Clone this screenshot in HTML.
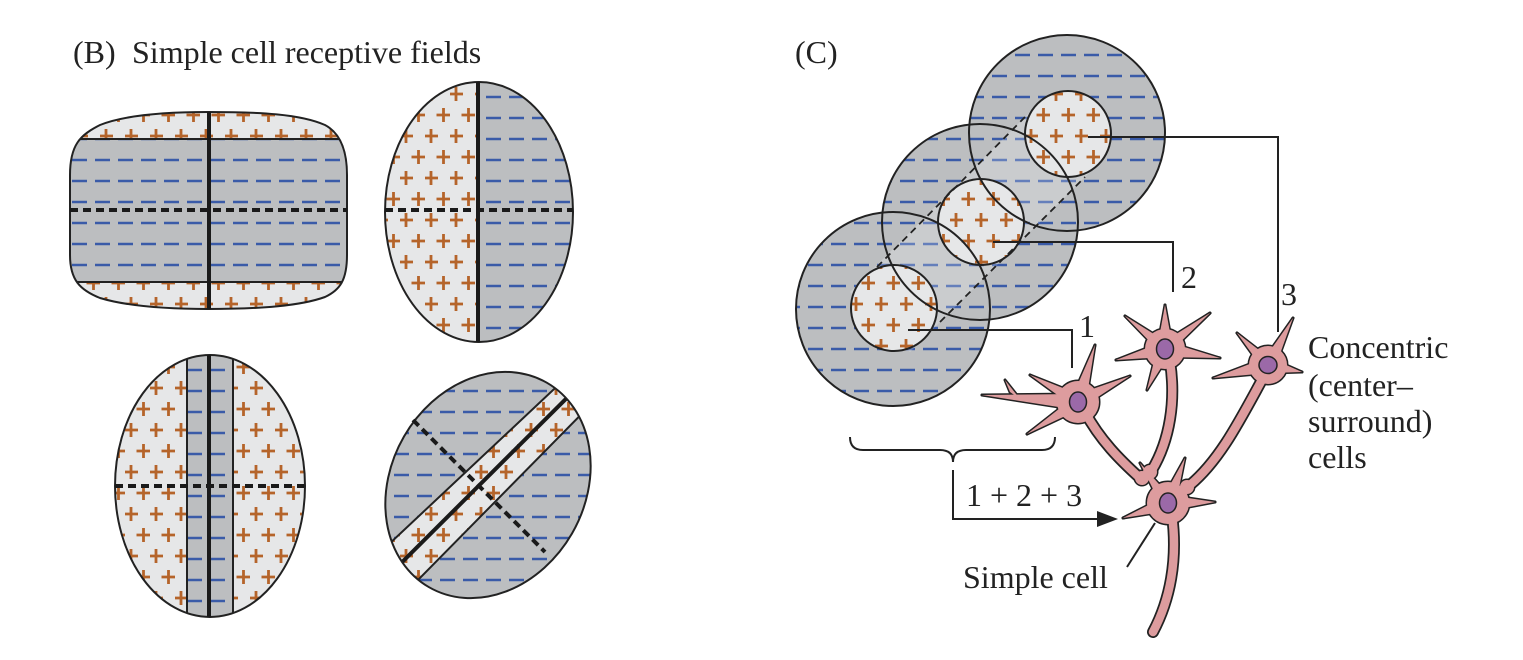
<!DOCTYPE html>
<html><head><meta charset="utf-8"><style>
html,body{margin:0;padding:0;background:#fff;}
svg{display:block;}
text{font-family:"Liberation Serif",serif;font-size:32px;fill:#222;}
</style></head><body>
<svg width="1523" height="660" viewBox="0 0 1523 660" xmlns="http://www.w3.org/2000/svg">
<defs>
<pattern id="pl" width="25" height="42" patternUnits="userSpaceOnUse">
<rect width="25" height="42" fill="#e6e7e8"/>
<path d="M-1,10h14M6,3v14M11.5,31h14M18.5,24v14" stroke="#b5642a" stroke-width="2.8"/>
</pattern>
<pattern id="ds" width="23" height="21" patternUnits="userSpaceOnUse">
<rect width="23" height="21" fill="#bcbec0"/>
<path d="M3,13h15" stroke="#3a5ba8" stroke-width="2.5"/>
</pattern>
<path id="s1" d="M70,175 C70,145 80,135 100,125 C130,113 180,112 208,112 C260,112 300,114 325,125 C340,133 347,150 347,175 L347,255 C347,280 340,290 325,297 C300,306 260,309 208,309 C170,309 130,307 100,298 C80,290 70,280 70,255 Z"/>
<clipPath id="c1"><use href="#s1"/></clipPath>
<clipPath id="c2"><ellipse cx="479" cy="212" rx="94" ry="130"/></clipPath>
<clipPath id="c3"><ellipse cx="210" cy="486" rx="95" ry="131"/></clipPath>
<clipPath id="c4"><ellipse cx="488" cy="485" rx="118" ry="97" transform="rotate(-60 488 485)"/></clipPath>
<clipPath id="cu"><circle cx="893" cy="309" r="97"/><circle cx="980" cy="222" r="98"/><circle cx="1067" cy="133" r="98"/></clipPath>
<g id="nsp">
<circle cx="1078" cy="402" r="21"/>
<polygon points="1070,402 1086,402 1095,345"/><polygon points="1078,394 1078,410 1095,345"/>
<polygon points="1070,402 1086,402 1130,376"/><polygon points="1078,394 1078,410 1130,376"/>
<polygon points="1070,402 1086,402 1030,375"/><polygon points="1078,394 1078,410 1030,375"/>
<polygon points="1070,402 1086,402 982,395"/><polygon points="1078,394 1078,410 982,395"/>
<polygon points="1070,402 1086,402 1027,434"/><polygon points="1078,394 1078,410 1027,434"/>
<polygon points="1010,392 1020,399 1005,380"/>
<circle cx="1165" cy="349" r="20"/>
<polygon points="1157,349 1173,349 1165,305"/><polygon points="1165,341 1165,357 1165,305"/>
<polygon points="1157,349 1173,349 1125,316"/><polygon points="1165,341 1165,357 1125,316"/>
<polygon points="1157,349 1173,349 1210,313"/><polygon points="1165,341 1165,357 1210,313"/>
<polygon points="1157,349 1173,349 1116,360"/><polygon points="1165,341 1165,357 1116,360"/>
<polygon points="1157,349 1173,349 1220,358"/><polygon points="1165,341 1165,357 1220,358"/>
<polygon points="1157,349 1173,349 1147,390"/><polygon points="1165,341 1165,357 1147,390"/>
<circle cx="1268" cy="365" r="19"/>
<polygon points="1260,365 1276,365 1293,318"/><polygon points="1268,357 1268,373 1293,318"/>
<polygon points="1260,365 1276,365 1237,333"/><polygon points="1268,357 1268,373 1237,333"/>
<polygon points="1260,365 1276,365 1302,372"/><polygon points="1268,357 1268,373 1302,372"/>
<polygon points="1260,365 1276,365 1213,378"/><polygon points="1268,357 1268,373 1213,378"/>
<circle cx="1168" cy="503" r="21"/>
<polygon points="1160,503 1176,503 1140,463"/><polygon points="1168,495 1168,511 1140,463"/>
<polygon points="1160,503 1176,503 1185,458"/><polygon points="1168,495 1168,511 1185,458"/>
<polygon points="1160,503 1176,503 1215,502"/><polygon points="1168,495 1168,511 1215,502"/>
<polygon points="1160,503 1176,503 1123,518"/><polygon points="1168,495 1168,511 1123,518"/>
<circle cx="1142" cy="478" r="7"/><circle cx="1150" cy="472" r="7"/><circle cx="1187" cy="487" r="7"/>
</g>
<g id="nax">
<path d="M1085,412 C1100,440 1120,460 1140,478"/>
<path d="M1170,362 C1176,400 1170,440 1152,470"/>
<path d="M1263,378 C1240,420 1220,460 1190,485"/>
<path d="M1172,515 C1178,560 1170,600 1153,632"/>
</g>
</defs>

<text x="73" y="63">(B)</text>
<text x="132" y="63">Simple cell receptive fields</text>
<text x="795" y="63">(C)</text>

<g clip-path="url(#c1)">
<rect x="60" y="100" width="300" height="220" fill="url(#pl)"/>
<rect x="60" y="139" width="300" height="143" fill="url(#ds)"/>
<path d="M60,139H360M60,282H360" stroke="#222" stroke-width="2"/>
</g>
<use href="#s1" fill="none" stroke="#222" stroke-width="2"/>
<path d="M209,112V309" stroke="#1a1a1a" stroke-width="4"/>
<path d="M70,210H347" stroke="#1a1a1a" stroke-width="4" stroke-dasharray="8 5"/>

<g clip-path="url(#c2)">
<rect x="380" y="80" width="100" height="270" fill="url(#pl)"/>
<rect x="478" y="80" width="100" height="270" fill="url(#ds)"/>
</g>
<ellipse cx="479" cy="212" rx="94" ry="130" fill="none" stroke="#222" stroke-width="2"/>
<path d="M478,82V342" stroke="#1a1a1a" stroke-width="4"/>
<path d="M385,210H573" stroke="#1a1a1a" stroke-width="4" stroke-dasharray="8 5"/>

<g clip-path="url(#c3)">
<rect x="110" y="350" width="200" height="270" fill="url(#pl)"/>
<rect x="187" y="350" width="46" height="270" fill="url(#ds)"/>
<path d="M187,350V620M233,350V620" stroke="#222" stroke-width="2"/>
</g>
<ellipse cx="210" cy="486" rx="95" ry="131" fill="none" stroke="#222" stroke-width="2"/>
<path d="M209,355V617" stroke="#1a1a1a" stroke-width="4"/>
<path d="M115,486H304" stroke="#1a1a1a" stroke-width="4" stroke-dasharray="8 5"/>

<g clip-path="url(#c4)">
<rect x="370" y="360" width="240" height="250" fill="url(#ds)"/>
<polygon points="320,609 602,344 623,372 348,651" fill="url(#pl)"/>
<path d="M320,609L602,344M348,651L623,372" stroke="#222" stroke-width="2"/>
<path d="M347,617L612,353" stroke="#1a1a1a" stroke-width="4"/>
</g>
<ellipse cx="488" cy="485" rx="118" ry="97" transform="rotate(-60 488 485)" fill="none" stroke="#222" stroke-width="2"/>
<path d="M413,420L545,552" stroke="#1a1a1a" stroke-width="4" stroke-dasharray="8 5"/>

<circle cx="893" cy="309" r="97" fill="url(#ds)"/>
<circle cx="980" cy="222" r="98" fill="url(#ds)"/>
<circle cx="1067" cy="133" r="98" fill="url(#ds)"/>
<polygon points="850,292 1038,104 1098,164 910,352" fill="#fff" opacity="0.22" clip-path="url(#cu)"/>
<circle cx="894" cy="308" r="43" fill="url(#pl)"/>
<circle cx="981" cy="222" r="43" fill="url(#pl)"/>
<circle cx="1068" cy="134" r="43" fill="url(#pl)"/>
<g fill="none" stroke="#222" stroke-width="2">
<circle cx="893" cy="309" r="97"/>
<circle cx="980" cy="222" r="98"/>
<circle cx="1067" cy="133" r="98"/>
<circle cx="894" cy="308" r="43"/>
<circle cx="981" cy="222" r="43"/>
<circle cx="1068" cy="134" r="43"/>
</g>
<path d="M877,267L1025,117M940,322L1085,177" stroke="#222" stroke-width="1.8" stroke-dasharray="7 5"/>

<g fill="none" stroke="#222" stroke-width="2">
<path d="M1088,137H1278V332"/>
<path d="M993,242H1173V292"/>
<path d="M908,330H1072V368"/>
<path d="M850,437 Q850,450 863,450 L940,450 Q953,450 953,462 Q953,450 966,450 L1042,450 Q1055,450 1055,437"/>
<path d="M953,470V519H1102"/>
<path d="M1127,567L1155,523"/>
</g>
<polygon points="1118,519 1097,511 1097,527" fill="#222"/>

<use href="#nax" fill="none" stroke="#222" stroke-width="12" stroke-linecap="round"/>
<use href="#nsp" fill="#222" stroke="#222" stroke-width="3" stroke-linejoin="round"/>
<use href="#nax" fill="none" stroke="#dd9c9e" stroke-width="8.5" stroke-linecap="round"/>
<use href="#nsp" fill="#dd9c9e" stroke="none"/>
<g fill="#9b69a8" stroke="#222" stroke-width="1.5">
<ellipse cx="1078" cy="402" rx="8.5" ry="10"/>
<ellipse cx="1165" cy="349" rx="8.5" ry="10"/>
<ellipse cx="1268" cy="365" rx="9" ry="8.5"/>
<ellipse cx="1168" cy="503" rx="8.5" ry="10"/>
</g>

<text x="1079" y="337">1</text>
<text x="1181" y="288">2</text>
<text x="1281" y="305">3</text>
<text x="966" y="506">1 + 2 + 3</text>
<text x="963" y="588">Simple cell</text>
<text x="1308" y="358">Concentric</text>
<text x="1308" y="396">(center–</text>
<text x="1308" y="432">surround)</text>
<text x="1308" y="468">cells</text>
</svg>
</body></html>
